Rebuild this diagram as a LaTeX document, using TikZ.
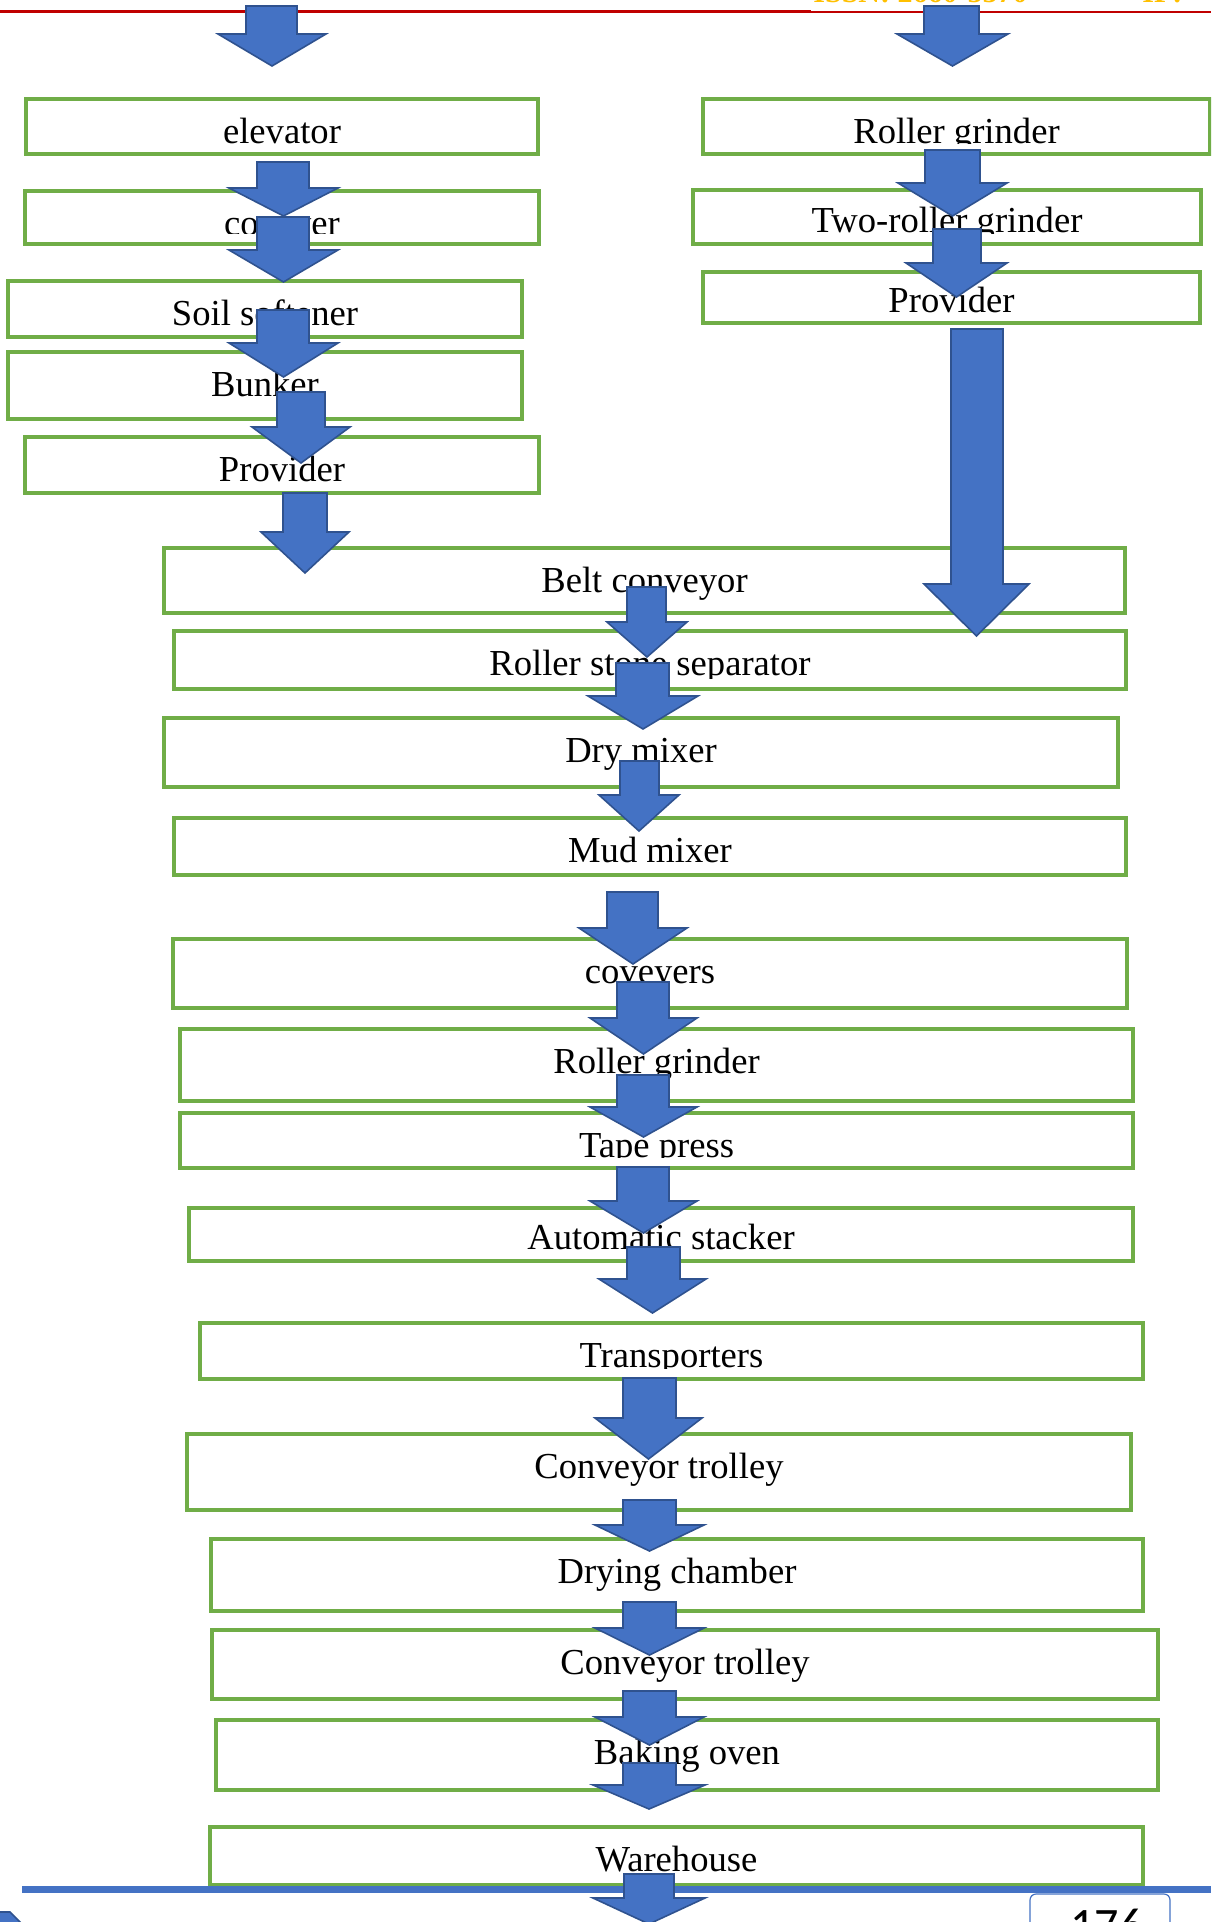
\documentclass[tikz,border=0pt]{standalone}
\usepackage{fontspec}
\setmainfont{Liberation Serif}
\newfontfamily\pnfont{Carlito}
\definecolor{boxgreen}{HTML}{70AD47}
\definecolor{arrowblue}{HTML}{4472C4}
\definecolor{arrowedge}{HTML}{2F528F}
\definecolor{hdrred}{HTML}{C00000}
\definecolor{hdrgold}{HTML}{FFC000}
\tikzset{
  stagebox/.style={draw=boxgreen, line width=1.6pt, fill=white, inner sep=0pt, outer sep=0pt, anchor=north west},
  stagetext/.style={font=\fontsize{18.3}{20}\selectfont, inner sep=0pt, anchor=base},
  blockarrow/.style={fill=arrowblue, draw=arrowedge, line width=0.8pt, line join=miter},
}
% name, x1, y1, x2, y2, text ; optional: baseline offset from top
\newcommand\flowstage[7][44]{%
  \node[stagebox, minimum width={(#5-#3)*0.5pt}, minimum height={(#6-#4)*0.5pt}] (#2) at (#3,#4) {};
  \begin{scope}
    \clip (#2.north west) rectangle ([yshift=5.5pt]#2.south east);
    \node[stagetext] (#2-label) at ([yshift={-#1*0.5pt}]#2.north) {#7};
  \end{scope}}
% shaft left, shaft right, top, head start, head left, head right, tip
\newcommand\flowarrow[7]{%
  \draw[blockarrow] (#1,#3) -- (#2,#3) -- (#2,#4) -- (#6,#4) -- ({(#5+#6)/2},#7) -- (#5,#4) -- (#1,#4) -- cycle;}
\begin{document}
\begin{tikzpicture}[x=0.5pt, y=-0.5pt]
\clip (0,0) rectangle (1211,1922);
\fill[white] (0,0) rectangle (1211,1922);
% header
\fill[hdrred] (0,10) rectangle (811,12.8);
\fill[hdrred] (811,11.4) rectangle (1211,12.6);
\node[font=\bfseries\fontsize{15}{15}\selectfont, text=hdrgold, anchor=base west, inner sep=0pt] (issn) at (813,3) {ISSN: 2660-5570};
\node[font=\bfseries\fontsize{15}{15}\selectfont, text=hdrgold, anchor=base west, inner sep=0pt] (jinfo) at (1142,3) {IF:};
% left column
\flowstage{elev}{26}{99}{538}{154}{elevator}
\flowstage{conv}{25}{191}{539}{244}{coveyer}
\flowstage{soil}{8}{281}{522}{337}{Soil softener}
\flowstage{bunk}{8}{352}{522}{419}{Bunker}
\flowstage{provL}{25}{437}{539}{493}{Provider}
% right column
\flowstage{rgR}{703}{99}{1210}{154}{Roller grinder}
\flowstage[42]{tworg}{693}{190}{1201}{244}{Two-roller grinder}
\flowstage[40]{provR}{703}{272}{1200}{323}{Provider}
% main column
\flowstage{belt}{164}{548}{1125}{613}{Belt conveyor}
\flowstage{rss}{174}{631}{1126}{689}{Roller stone separator}
\flowstage{dry}{164}{718}{1118}{787}{Dry mixer}
\flowstage{mud}{174}{818}{1126}{875}{Mud mixer}
\flowstage{covs}{173}{939}{1127}{1008}{coveyers}
\flowstage{rgC}{180}{1029}{1133}{1101}{Roller grinder}
\flowstage{tape}{180}{1113}{1133}{1168}{Tape press}
\flowstage[41]{stack}{189}{1208}{1133}{1261}{Automatic stacker}
\flowstage{trans}{200}{1323}{1143}{1379}{Transporters}
\flowstage{trol1}{187}{1434}{1131}{1510}{Conveyor trolley}
\flowstage{dryc}{211}{1539}{1143}{1611}{Drying chamber}
\flowstage{trol2}{212}{1630}{1158}{1699}{Conveyor trolley}
\flowstage{bake}{216}{1720}{1158}{1790}{Baking oven}
\flowstage{ware}{210}{1827}{1143}{1885}{Warehouse}
% footer
\fill[arrowblue] (22,1886) rectangle (1211,1893);
\draw[arrowblue, line width=0.6pt, rounded corners=3pt] (1030,1940) -- (1030,1894) -- (1170,1894) -- (1170,1940);
\node[font=\pnfont\fontsize{24}{24}\selectfont, anchor=base, inner sep=0pt] (pageno) at (1107,1941) {176};
\draw[blockarrow] (-2,1912) -- (10,1912) -- (22,1924) -- (-2,1924) -- cycle;
% block arrows
\flowarrow{246}{297}{6}{34}{218}{326}{66}
\flowarrow{924}{979}{6}{34}{897}{1008}{66}
\flowarrow{257}{309}{162}{188}{229}{338}{216}
\flowarrow{257}{309}{217}{250}{229}{338}{282}
\flowarrow{257}{309}{310}{343}{229}{338}{377}
\flowarrow{277}{325}{392}{427}{252}{350}{463}
\flowarrow{283}{327}{493}{532}{261}{349}{573}
\flowarrow{925}{980}{150}{183}{898}{1007}{216}
\flowarrow{933}{981}{229}{263}{906}{1007}{297}
\flowarrow{951}{1003}{329}{584}{924}{1029}{636}
\flowarrow{627}{666}{587}{622}{607}{687}{657}
\flowarrow{616}{669}{663}{696}{588}{698}{729}
\flowarrow{620}{659}{761}{795}{599}{679}{831}
\flowarrow{607}{658}{892}{928}{579}{687}{964}
\flowarrow{617}{669}{982}{1018}{590}{697}{1054}
\flowarrow{617}{669}{1075}{1107}{590}{697}{1137}
\flowarrow{617}{669}{1167}{1201}{590}{697}{1233}
\flowarrow{627}{680}{1247}{1279}{599}{706}{1313}
\flowarrow{623}{676}{1378}{1418}{595}{702}{1459}
\flowarrow{623}{676}{1500}{1525}{595}{704}{1551}
\flowarrow{623}{676}{1602}{1628}{595}{704}{1655}
\flowarrow{623}{676}{1691}{1717}{595}{704}{1745}
\flowarrow{623}{676}{1763}{1785}{593}{705}{1809}
\flowarrow{624}{674}{1874}{1898}{593}{705}{1924}
\end{tikzpicture}
\end{document}
